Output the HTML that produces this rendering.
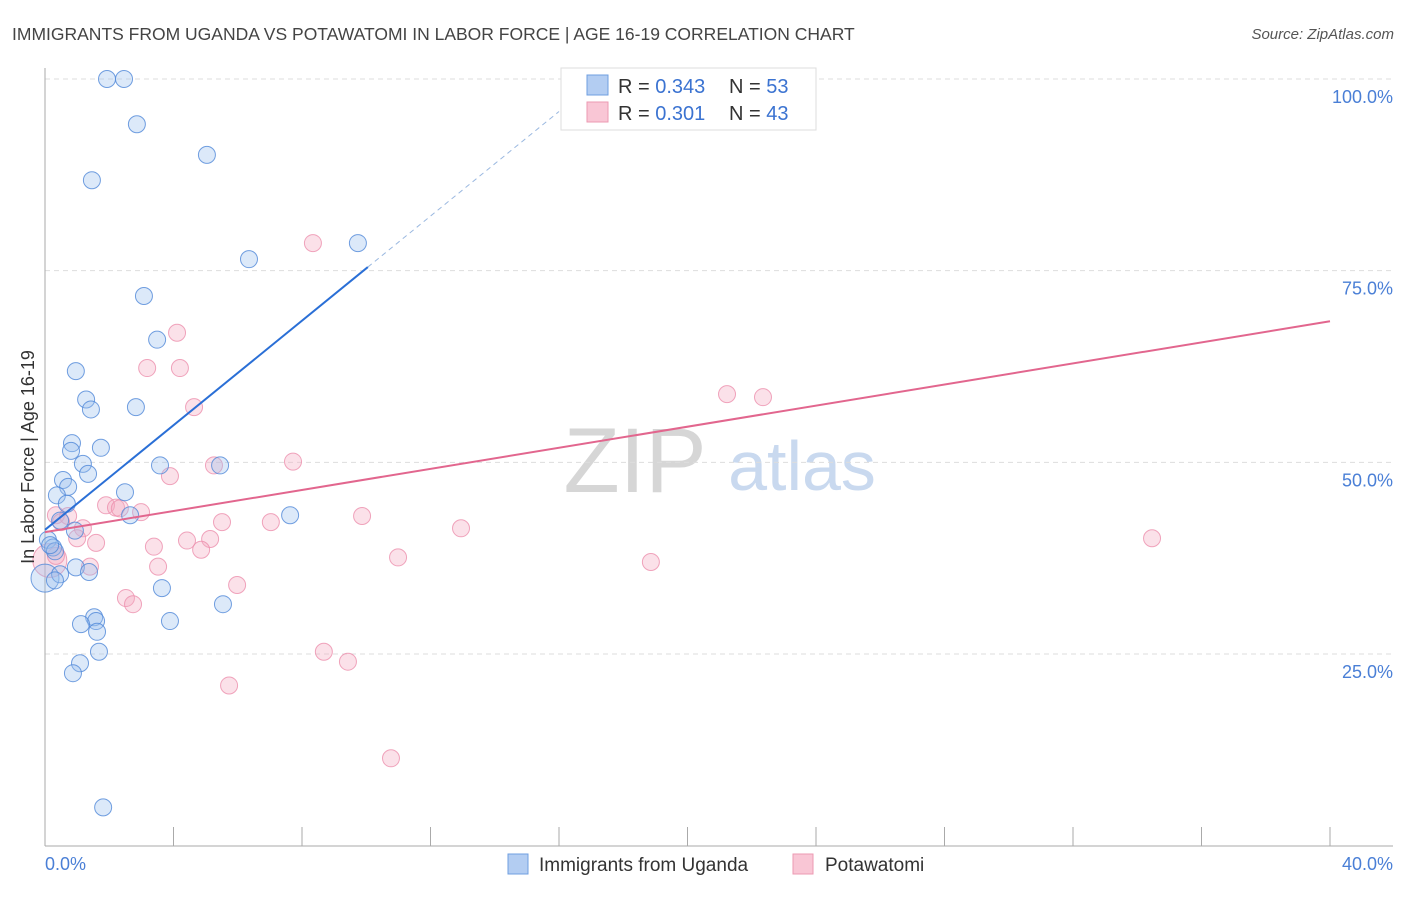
<!DOCTYPE html>
<html><head><meta charset="utf-8"><style>
body{margin:0;background:#fff;font-family:"Liberation Sans",sans-serif;}
svg text{font-family:"Liberation Sans",sans-serif;}
</style></head><body>
<svg id="chart" width="1406" height="892" xmlns="http://www.w3.org/2000/svg">
<text x="12" y="40" font-size="17.5" fill="#444">IMMIGRANTS FROM UGANDA VS POTAWATOMI IN LABOR FORCE | AGE 16-19 CORRELATION CHART</text>
<text x="1394" y="39" font-size="15" fill="#555" font-style="italic" text-anchor="end">Source: ZipAtlas.com</text>
<text x="635" y="492" font-size="92" fill="#d6d6d6" font-family="Liberation Serif" text-anchor="middle">ZIP</text>
<text x="802" y="490" font-size="70" fill="#c9d9ef" text-anchor="middle">atlas</text>
<g id="grid"></g><g id="axes"></g><g id="pts"></g><g id="trend"></g>
<text transform="translate(34,457) rotate(-90)" font-size="18" fill="#333" text-anchor="middle">In Labor Force | Age 16-19</text>
<g>
<rect x="561" y="68" width="255" height="62" fill="#fff" stroke="#ddd"/>
<rect x="587" y="75" width="21" height="20" fill="#b3cdf2" stroke="#6f9fe0"/>
<rect x="587" y="102" width="21" height="20" fill="#f9c6d5" stroke="#ec9ab2"/>
<text x="618" y="93" font-size="20" fill="#333">R = <tspan fill="#3b73d1">0.343</tspan></text>
<text x="729" y="93" font-size="20" fill="#333">N = <tspan fill="#3b73d1">53</tspan></text>
<text x="618" y="120" font-size="20" fill="#333">R = <tspan fill="#3b73d1"> 0.301</tspan></text>
<text x="729" y="120" font-size="20" fill="#333">N = <tspan fill="#3b73d1">43</tspan></text>
</g>
<g>
<rect x="508" y="854" width="20" height="20" fill="#b3cdf2" stroke="#6f9fe0"/>
<text x="539" y="871" font-size="19" fill="#333">Immigrants from Uganda</text>
<rect x="793" y="854" width="20" height="20" fill="#f9c6d5" stroke="#ec9ab2"/>
<text x="825" y="871" font-size="19" fill="#333">Potawatomi</text>
</g>
</svg>
<script>
const blueX=[1.93,2.46,2.86,5.04,1.46,9.74,6.35,3.08,3.49,0.96,1.28,1.43,2.83,0.84,1.74,0.81,1.18,1.34,3.58,5.45,0.56,0.72,0.37,2.49,0.68,2.65,7.63,0.47,0.93,0.09,0.25,0.31,0.16,0.96,1.37,0.47,0.31,3.64,5.54,1.53,1.59,1.12,1.62,3.89,1.68,1.09,0.87,1.81];
const blueY=[100,100,94.1,90.1,86.8,78.6,76.5,71.7,66.0,61.9,58.2,56.9,57.2,52.5,51.9,51.5,49.8,48.5,49.6,49.6,47.7,46.8,45.7,46.1,44.6,43.1,43.1,42.4,41.1,39.9,38.9,38.4,39.2,36.3,35.7,35.4,34.6,33.6,31.5,29.8,29.3,28.9,27.9,29.3,25.3,23.8,22.5,5.0];
const pinkX=[22.26,8.34,4.11,3.18,4.20,21.23,22.35,4.64,5.26,7.72,3.89,1.90,2.21,2.33,2.99,0.34,0.72,5.51,7.03,9.87,12.95,1.18,0.50,1.0,1.59,4.42,5.14,3.39,4.86,34.46,0.34,10.99,3.52,1.40,18.86,5.98,2.52,2.74,8.68,9.43,5.73,10.77];
const pinkY=[100,78.6,66.9,62.3,62.3,58.9,58.5,57.2,49.6,50.1,48.2,44.4,44.1,44.0,43.5,43.1,43.0,42.2,42.2,43.0,41.4,41.4,42.2,40.1,39.5,39.8,40.0,39.0,38.6,40.1,37.8,37.6,36.4,36.4,37.0,34.0,32.3,31.5,25.3,24.0,20.9,11.4];
const bigBlueX=[0.0];
const bigBlueY=[34.9];
const bigPinkX=[0.15];
const bigPinkY=[37.2];
const yTicks=[25,50,75,100];
const yTickLabels=["25.0%","50.0%","75.0%","100.0%"];
const blueTrend=[41.2,3.41];
const pinkTrend=[40.9,0.6875];
const NS="http://www.w3.org/2000/svg";
const sx=v=>45+v*32.125, sy=v=>845.7-v*7.667;
function mk(tag,attrs,parent){const e=document.createElementNS(NS,tag);for(const k in attrs)e.setAttribute(k,attrs[k]);document.getElementById(parent).appendChild(e);return e;}
yTicks.forEach((t,i)=>{
 let g=mk('line',{x1:45,x2:1393,y1:sy(t),y2:sy(t),stroke:'#ddd','stroke-dasharray':'5,4'},'grid');
 
 
 let l=mk('text',{x:1393,y:sy(t)+24,'font-size':18,fill:'#4a7fd6','text-anchor':'end'},'grid');l.textContent=yTickLabels[i];
 
 
});
let ax=mk('line',{x1:45,x2:45,y1:68,y2:846,stroke:'#aaa'},'axes');


let bx=mk('line',{x1:45,x2:1393,y1:846,y2:846,stroke:'#aaa'},'axes');


for(let i=0;i<=10;i++){let t=mk('line',{x1:sx(i*4),x2:sx(i*4),y1:827,y2:846,stroke:'#aaa'},'axes');
 
 }
let x0=mk('text',{x:45,y:870,'font-size':18,fill:'#4a7fd6'},'axes');x0.textContent='0.0%';


let x1=mk('text',{x:1393,y:870,'font-size':18,fill:'#4a7fd6','text-anchor':'end'},'axes');x1.textContent='40.0%';


function pts(X,Y,fill,stroke,name,r){X.forEach((x,i)=>{const c=mk('circle',{cx:sx(x),cy:sy(Y[i]),r:r,fill:fill,stroke:stroke,'stroke-width':1,'fill-opacity':0.35,'stroke-opacity':0.8},'pts');
 
 });}
pts(bigPinkX,bigPinkY,'#f4a9c0','#ec8fac','potawatomi-point-large',17);
pts(bigBlueX,bigBlueY,'#9cc0ef','#4f87d8','uganda-point-large',14);
pts(pinkX,pinkY,'#f4a9c0','#ec8fac','potawatomi-point',8.5);
pts(blueX,blueY,'#9cc0ef','#4f87d8','uganda-point',8.5);
let bl=mk('line',{x1:sx(0),y1:sy(blueTrend[0]),x2:sx(10.05),y2:sy(blueTrend[0]+blueTrend[1]*10.05),stroke:'#2a6fd6','stroke-width':2},'trend');


let bd=mk('line',{x1:sx(10.05),y1:sy(blueTrend[0]+blueTrend[1]*10.05),x2:sx(16.0),y2:sy(blueTrend[0]+blueTrend[1]*16.0),stroke:'#9ab8e0','stroke-width':1,'stroke-dasharray':'5,4'},'trend');


let pl=mk('line',{x1:sx(0),y1:sy(pinkTrend[0]),x2:sx(40),y2:sy(pinkTrend[0]+pinkTrend[1]*40),stroke:'#e2668e','stroke-width':2},'trend');


</script>
</body></html>
